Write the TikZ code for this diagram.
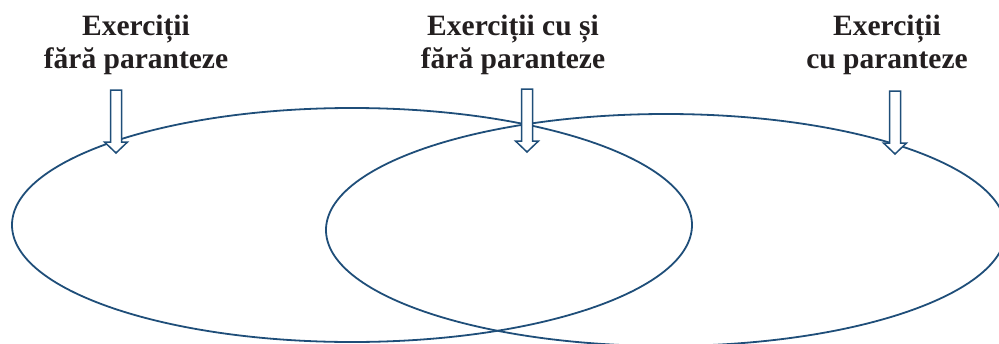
\documentclass[tikz,border=0pt]{standalone}
\usepackage{fontspec}
\setmainfont{Liberation Serif}
\definecolor{setblue}{RGB}{31,78,121}
\definecolor{textgray}{RGB}{35,31,32}
\tikzset{
  setline/.style={draw=setblue, line width=1.8pt},
  setlabel/.style={align=center, text=textgray, font=\fontsize{29.5}{33}\selectfont\bfseries, inner sep=0pt, anchor=base},
  pointer/.style={draw=setblue, line width=1.5pt, fill=white, line join=miter}
}
\begin{document}
\begin{tikzpicture}[x=1pt, y=-1pt]
    \useasboundingbox (0,0) rectangle (999,343);
    \clip (0,0) rectangle (999,343);

    % The two sets
    \draw[setline] (352,225) ellipse [x radius=340, y radius=117];
    \draw[setline] (666,230) ellipse [x radius=340, y radius=116];

    % Labels
    \node[setlabel] (lblLeft) at (136,68) {Exerciții\\fără paranteze};
    \node[setlabel] (lblMid) at (513,68) {Exerciții cu și\\fără paranteze};
    \node[setlabel] (lblRight) at (887,68) {Exerciții\\cu paranteze};

    % Hollow arrows pointing into the sets
    \foreach \x/\y in {116/90, 527/89, 895/91}
        \draw[pointer] (\x-5.5,\y) -- (\x+5.5,\y) -- (\x+5.5,\y+52) -- (\x+11.5,\y+52)
            -- (\x,\y+63) -- (\x-11.5,\y+52) -- (\x-5.5,\y+52) -- cycle;
\end{tikzpicture}
\end{document}
